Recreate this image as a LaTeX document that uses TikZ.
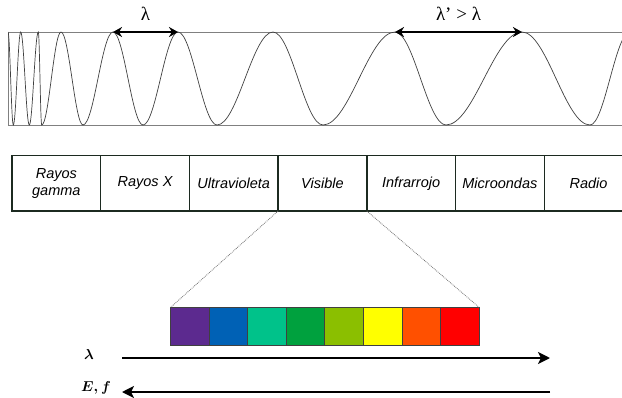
\documentclass[tikz,border=0pt]{standalone}
\usepackage{amsmath}
\usepackage{fontspec}
\usepackage{tikz}
\usetikzlibrary{arrows.meta}

\newfontfamily\bandfont{Liberation Sans}
\newfontfamily\greekfont{Liberation Serif}

\definecolor{boxline}{HTML}{1C2A20}
\definecolor{cviolet}{HTML}{5C2A8F}
\definecolor{cblue}{HTML}{0061B5}
\definecolor{cteal}{HTML}{00C28A}
\definecolor{cgreen}{HTML}{00A13E}
\definecolor{clime}{HTML}{8BBF00}
\definecolor{cyellow}{HTML}{FFFF00}
\definecolor{corange}{HTML}{FF5000}
\definecolor{cred}{HTML}{FF0000}

\begin{document}
\begin{tikzpicture}[x=1pt,y=-1pt]
  \tikzstyle{band}=[draw=boxline,line width=1.4pt,outer sep=0pt,minimum width=88.7pt,minimum height=55.5pt,inner sep=1pt,align=center,font=\bandfont\itshape\fontsize{14.5}{17}\selectfont]
  \tikzstyle{swatch}=[draw=black!75,line width=0.8pt,outer sep=0pt,minimum size=38.5pt,inner sep=0pt]
  \tikzstyle{wave}=[draw=black!75,line width=0.7pt]
  \tikzstyle{frame}=[draw=black!50,line width=0.8pt]
  \tikzstyle{span}=[{Stealth[length=9pt,width=10pt]}-{Stealth[length=9pt,width=10pt]},line width=2.6pt]
  \tikzstyle{axis}=[-{Stealth[length=12pt,width=12pt,inset=3pt]},line width=2.6pt]
  \tikzstyle{zoomline}=[densely dotted,draw=black!55,line width=0.8pt]

  \useasboundingbox (0,0) rectangle (622,397);

  % wave
  \draw[frame] (8,32) -- (622,32);
  \draw[frame] (8,125) -- (622,125);
  \draw[frame] (8,32) -- (8,125);
  \begin{scope}
    \clip (8,0) rectangle (622,140);
    \draw[wave] (8,32) foreach \a/\u/\b/\v in {8/32/13.3/125, 13.3/125/20.7/32, 20.7/32/29.3/125,
      29.3/125/38.3/32, 38.3/32/41.7/125, 41.7/125/61/32, 61/32/83/125, 83/125/113/32,
      113/32/143/125, 143/125/178/32, 178/32/217/125, 217/125/273/32, 273/32/323/125,
      323/125/395/32, 395/32/446/125, 446/125/522/32, 522/32/590/125, 590/125/630/32}
      { .. controls ({\a+0.364*(\b-\a)},\u) and ({\b-0.364*(\b-\a)},\v) .. (\b,\v) };
  \end{scope}

  \coordinate (pk3) at (113,32);
  \coordinate (pk4) at (178,32);
  \coordinate (pk6) at (395,32);
  \coordinate (pk7) at (522,32);
  \path[span] (pk3) edge (pk4);
  \path[span] (pk6) edge (pk7);
  \node[font=\greekfont\fontsize{19}{22}\selectfont] (lam) at (145.5,14) {λ};
  \node[font=\greekfont\fontsize{19}{22}\selectfont] (lamp) at (458.5,14) {λ’ > λ};

  % bands
  \node[band] (gamma) at (56.35,183.25)  {Rayos\\gamma};
  \node[band] (xray)  at (145.05,183.25) {Rayos X};
  \node[band] (uv)    at (233.75,183.25) {Ultravioleta};
  \node[band] (vis)   at (322.45,183.25) {Visible};
  \node[band] (ir)    at (411.15,183.25) {Infrarrojo};
  \node[band] (micro) at (499.85,183.25) {Microondas};
  \node[band] (radio) at (588.55,183.25) {Radio};

  % visible strip
  \node[swatch,fill=cviolet] (v1) at (189.97,326.5) {};
  \node[swatch,fill=cblue]   (v2) at (228.51,326.5) {};
  \node[swatch,fill=cteal]   (v3) at (267.05,326.5) {};
  \node[swatch,fill=cgreen]  (v4) at (305.59,326.5) {};
  \node[swatch,fill=clime]   (v5) at (344.13,326.5) {};
  \node[swatch,fill=cyellow] (v6) at (382.67,326.5) {};
  \node[swatch,fill=corange] (v7) at (421.21,326.5) {};
  \node[swatch,fill=cred]    (v8) at (459.75,326.5) {};

  \path[zoomline] (vis.south west) edge (v1.north west);
  \path[zoomline] (vis.south east) edge (v8.north east);

  % axes
  \coordinate (lamL) at (122,358);
  \coordinate (lamR) at (550,358);
  \coordinate (efL) at (122,392);
  \coordinate (efR) at (550,392);
  \path[axis] (lamL) edge (lamR);
  \path[axis] (efR) edge (efL);
  \node[font=\fontsize{15}{17}\selectfont] (lamlab) at (89,354) {$\boldsymbol{\lambda}$};
  \node[font=\fontsize{15}{17}\selectfont] (eflab) at (96,388) {$\boldsymbol{E, f}$};

\end{tikzpicture}
\end{document}
